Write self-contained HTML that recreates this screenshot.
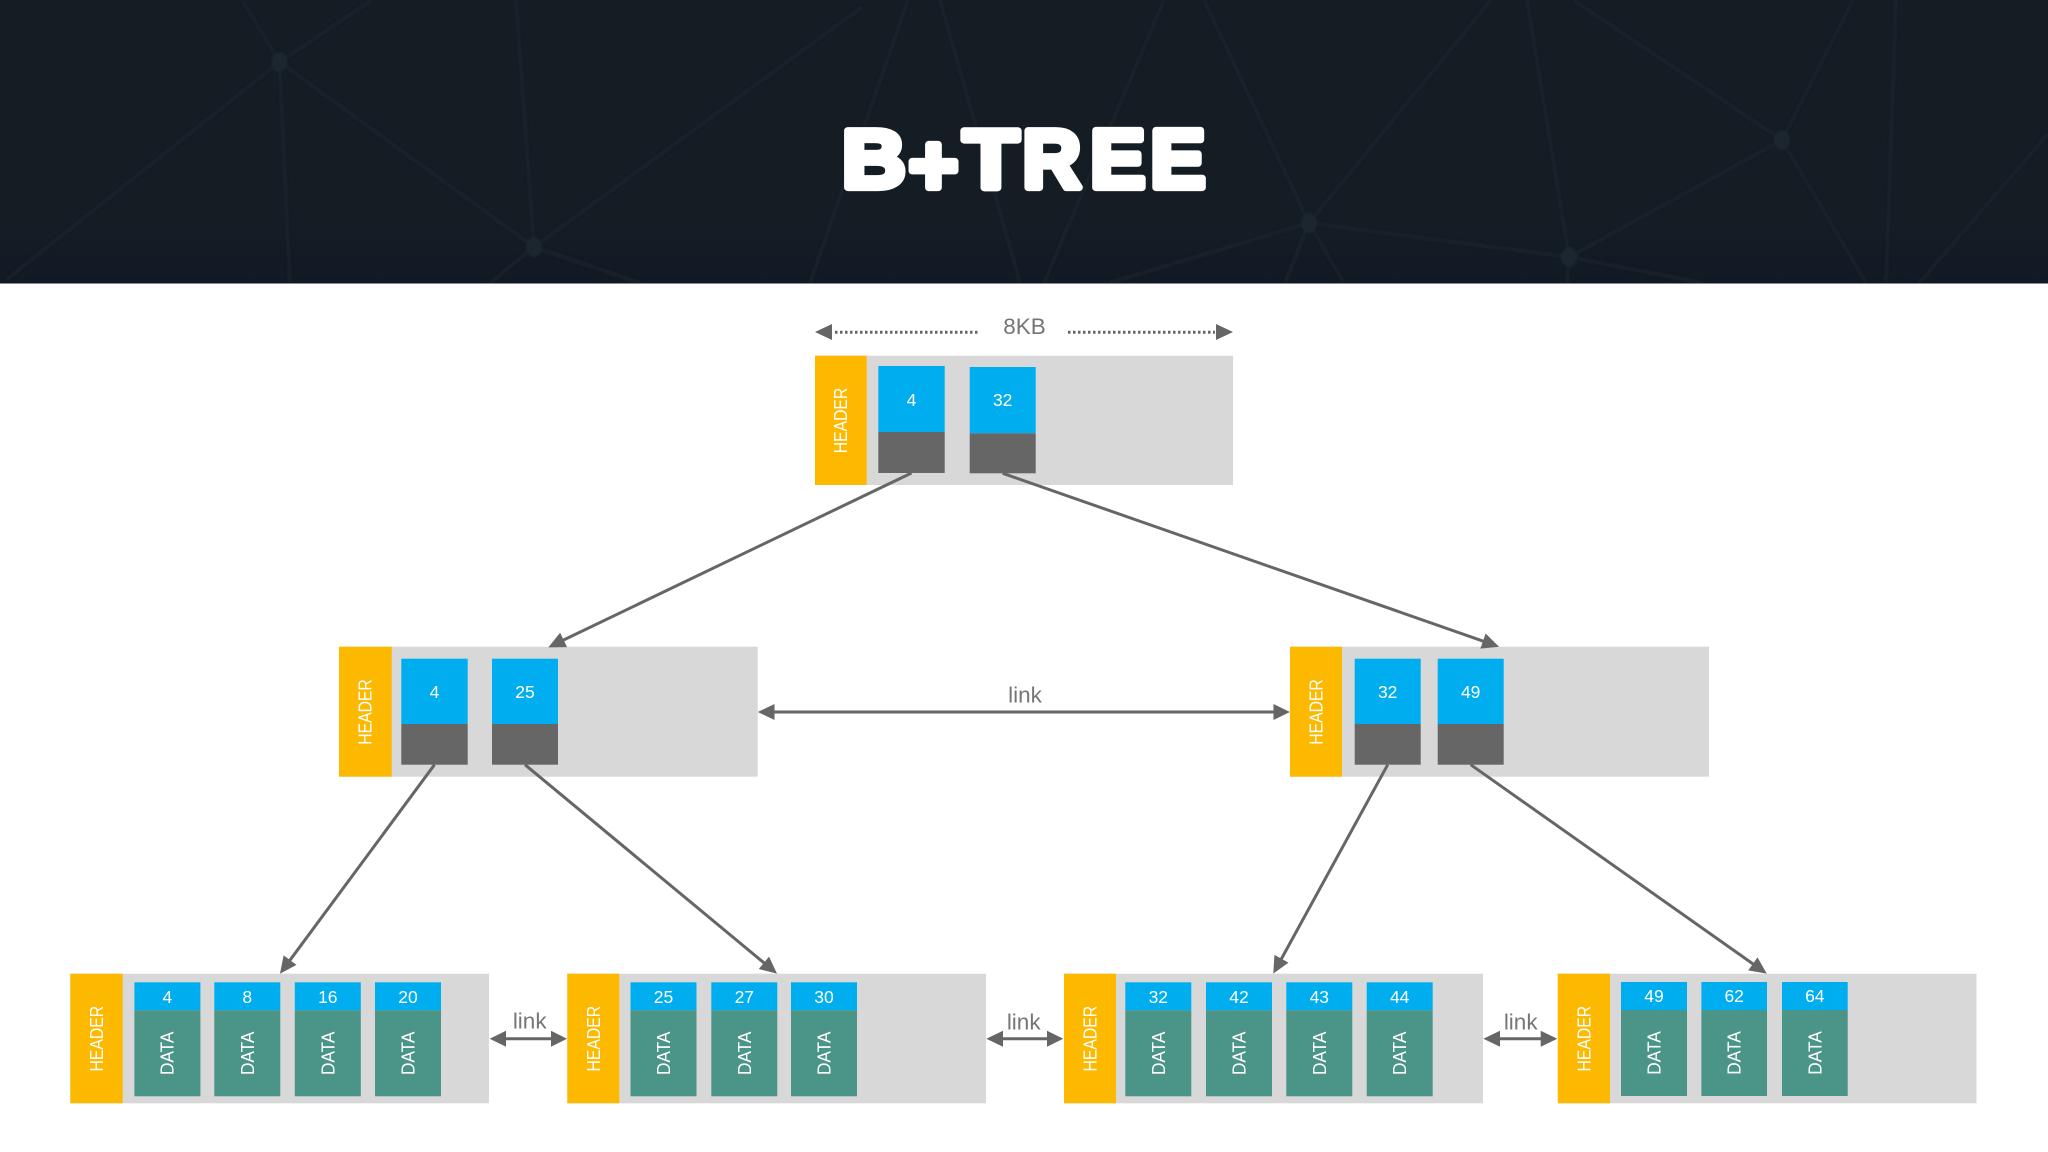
<!DOCTYPE html>
<html><head><meta charset="utf-8"><title>B+Tree</title>
<style>html,body{margin:0;padding:0;background:#fff;width:2048px;height:1152px;overflow:hidden}svg{display:block}
text{font-family:"Liberation Sans",sans-serif}
.w{fill:#fff;text-anchor:middle}
.n{font-size:17.5px}.h{font-size:18px}.g{fill:#757575;font-size:22.5px;text-anchor:middle}
.o{fill:#fdb900}.b{fill:#00aeef}.k{fill:#666}.t{fill:#4a9488}.r{fill:#d8d8d8}
.tt{font-size:81px;font-weight:700;fill:#fff;stroke:#fff;stroke-width:7;stroke-linejoin:round}
</style></head><body>
<svg width="2048" height="1152" viewBox="0 0 2048 1152" xmlns="http://www.w3.org/2000/svg">
<defs>
<linearGradient id="hg" x1="0" y1="0" x2="0" y2="1"><stop offset="0" stop-color="#141c24"/><stop offset=".8" stop-color="#141c24"/><stop offset="1" stop-color="#111925"/></linearGradient>
<filter id="bl" x="-5%" y="-5%" width="110%" height="110%"><feGaussianBlur stdDeviation="1.4"/></filter>
<marker id="ah" markerUnits="userSpaceOnUse" markerWidth="17" markerHeight="16" refX="7" refY="8" orient="auto" overflow="visible"><polygon points="0,0 17,8 0,16" fill="#666"/></marker>
</defs>
<rect x="0" y="0" width="2048" height="283.5" fill="url(#hg)"/>
<svg x="0" y="0" width="2048" height="283">
<g stroke="#1a232a" stroke-width="3" fill="none" filter="url(#bl)">
<path d="M279.5 62L242 0M279.5 62L372 0M279.5 62L6 280M279.5 62L290 283M279.5 62L534 247M534 247L516 0M534 247L862 7M534 247L490 283M534 247L640 283"/>
<path d="M908 0L810 283M940 0L1020 283M1164 0L1044 283M1204 0L1309 223M1309 223L1491 0M1309 223L1109 283M1309 223L1569 257M1309 223L1285 283M1309 223L1344 283"/>
<path d="M1527 0L1569 257M1569 257L1782 140M1569 257L1567 283M1569 257L1703 283M1573 0L1782 140M1782 140L1853 0M1782 140L1866 283M1896 0L1886 283M2048 134L1919 283"/>
</g>
<g fill="#1c272e" filter="url(#bl)">
<ellipse cx="279.5" cy="62" rx="8" ry="10"/><ellipse cx="534" cy="247" rx="8" ry="10"/><ellipse cx="1309" cy="223" rx="8" ry="10"/><ellipse cx="1569" cy="257" rx="8" ry="10"/><ellipse cx="1782" cy="140" rx="8" ry="10"/>
</g>
</svg>
<text class="tt" transform="translate(842,187.5) scale(1.09,1.023)">B</text>
<text class="tt" transform="translate(908.6,193.9) scale(1.05,1.04)">+</text>
<text class="tt" transform="translate(963.2,187.5) scale(1.12,1.023)">T</text>
<text class="tt" transform="translate(1022.5,187.5) scale(1,1.023)">R</text>
<text class="tt" transform="translate(1090.3,187.5) scale(1.02,1.023)">E</text>
<text class="tt" transform="translate(1150.4,187.5) scale(1.02,1.023)">E</text>

<!-- 8KB -->
<polygon points="815,332 832,324 832,340" fill="#666"/>
<polygon points="1233,332 1216,324 1216,340" fill="#666"/>
<line x1="835" y1="332.3" x2="980" y2="332.3" stroke="#666" stroke-width="3" stroke-dasharray="2.5 2.5"/>
<line x1="1068" y1="332.3" x2="1215" y2="332.3" stroke="#666" stroke-width="3" stroke-dasharray="2.5 2.5"/>
<text class="g" x="1024.5" y="334">8KB</text>

<!-- root -->
<rect class="r" x="815" y="355.7" width="418" height="129.3"/>
<rect class="o" x="815" y="355.7" width="51.7" height="129.3"/>
<text class="w h" transform="translate(847,420.5) rotate(-90)" textLength="65.6" lengthAdjust="spacingAndGlyphs">HEADER</text>
<rect class="b" x="878.3" y="366" width="66.4" height="66"/><rect class="k" x="878.3" y="432" width="66.4" height="41"/>
<text class="w n" x="911.5" y="406">4</text>
<rect class="b" x="969.7" y="367" width="66" height="66.3"/><rect class="k" x="969.7" y="433.3" width="66" height="40"/>
<text class="w n" x="1002.7" y="406">32</text>

<!-- mid left -->
<rect class="r" x="339" y="646.7" width="418.7" height="130"/>
<rect class="o" x="339" y="646.7" width="52.7" height="130"/>
<text class="w h" transform="translate(371.5,712) rotate(-90)" textLength="65.6" lengthAdjust="spacingAndGlyphs">HEADER</text>
<rect class="b" x="401.3" y="658.7" width="66.4" height="65.3"/><rect class="k" x="401.3" y="724" width="66.4" height="40.7"/>
<text class="w n" x="434.5" y="698">4</text>
<rect class="b" x="492" y="658.7" width="66" height="65.3"/><rect class="k" x="492" y="724" width="66" height="40.7"/>
<text class="w n" x="525" y="698">25</text>

<!-- mid right -->
<rect class="r" x="1290" y="646.7" width="419" height="130"/>
<rect class="o" x="1290" y="646.7" width="52" height="130"/>
<text class="w h" transform="translate(1322.5,712) rotate(-90)" textLength="65.6" lengthAdjust="spacingAndGlyphs">HEADER</text>
<rect class="b" x="1354.7" y="658.7" width="66" height="65.3"/><rect class="k" x="1354.7" y="724" width="66" height="40.7"/>
<text class="w n" x="1387.7" y="698">32</text>
<rect class="b" x="1437.7" y="658.7" width="66" height="65.3"/><rect class="k" x="1437.7" y="724" width="66" height="40.7"/>
<text class="w n" x="1470.7" y="698">49</text>

<!-- leaf 1 -->
<rect class="r" x="70.3" y="973.7" width="418.7" height="129.6"/>
<rect class="o" x="70.3" y="973.7" width="52.4" height="129.6"/>
<text class="w h" transform="translate(103,1038.7) rotate(-90)" textLength="65.6" lengthAdjust="spacingAndGlyphs">HEADER</text>
<rect class="b" x="134.4" y="982.3" width="66" height="28"/><rect class="t" x="134.4" y="1010.3" width="66" height="86"/>
<text class="w n" x="167.4" y="1003">4</text><text class="w h" transform="translate(173.5,1053.3) rotate(-90)" textLength="43.5" lengthAdjust="spacingAndGlyphs">DATA</text>
<rect class="b" x="214.3" y="982.3" width="66" height="28"/><rect class="t" x="214.3" y="1010.3" width="66" height="86"/>
<text class="w n" x="247.3" y="1003">8</text><text class="w h" transform="translate(253.8,1053.3) rotate(-90)" textLength="43.5" lengthAdjust="spacingAndGlyphs">DATA</text>
<rect class="b" x="294.8" y="982.3" width="66" height="28"/><rect class="t" x="294.8" y="1010.3" width="66" height="86"/>
<text class="w n" x="327.8" y="1003">16</text><text class="w h" transform="translate(334.3,1053.3) rotate(-90)" textLength="43.5" lengthAdjust="spacingAndGlyphs">DATA</text>
<rect class="b" x="375" y="982.3" width="66" height="28"/><rect class="t" x="375" y="1010.3" width="66" height="86"/>
<text class="w n" x="408" y="1003">20</text><text class="w h" transform="translate(414.5,1053.3) rotate(-90)" textLength="43.5" lengthAdjust="spacingAndGlyphs">DATA</text>

<!-- leaf 2 -->
<rect class="r" x="567.3" y="973.7" width="418.7" height="129.6"/>
<rect class="o" x="567.3" y="973.7" width="52" height="129.6"/>
<text class="w h" transform="translate(600,1038.7) rotate(-90)" textLength="65.6" lengthAdjust="spacingAndGlyphs">HEADER</text>
<rect class="b" x="630.5" y="982.3" width="66" height="28"/><rect class="t" x="630.5" y="1010.3" width="66" height="86"/>
<text class="w n" x="663.5" y="1003">25</text><text class="w h" transform="translate(670,1053.3) rotate(-90)" textLength="43.5" lengthAdjust="spacingAndGlyphs">DATA</text>
<rect class="b" x="711.3" y="982.3" width="66" height="28"/><rect class="t" x="711.3" y="1010.3" width="66" height="86"/>
<text class="w n" x="744.3" y="1003">27</text><text class="w h" transform="translate(750.8,1053.3) rotate(-90)" textLength="43.5" lengthAdjust="spacingAndGlyphs">DATA</text>
<rect class="b" x="791" y="982.3" width="66" height="28"/><rect class="t" x="791" y="1010.3" width="66" height="86"/>
<text class="w n" x="824" y="1003">30</text><text class="w h" transform="translate(830.5,1053.3) rotate(-90)" textLength="43.5" lengthAdjust="spacingAndGlyphs">DATA</text>

<!-- leaf 3 -->
<rect class="r" x="1064" y="973.7" width="419" height="129.6"/>
<rect class="o" x="1064" y="973.7" width="52" height="129.6"/>
<text class="w h" transform="translate(1096.5,1038.7) rotate(-90)" textLength="65.6" lengthAdjust="spacingAndGlyphs">HEADER</text>
<rect class="b" x="1125.3" y="982.3" width="66" height="28"/><rect class="t" x="1125.3" y="1010.3" width="66" height="86"/>
<text class="w n" x="1158.3" y="1003">32</text><text class="w h" transform="translate(1164.8,1053.3) rotate(-90)" textLength="43.5" lengthAdjust="spacingAndGlyphs">DATA</text>
<rect class="b" x="1206" y="982.3" width="66" height="28"/><rect class="t" x="1206" y="1010.3" width="66" height="86"/>
<text class="w n" x="1239" y="1003">42</text><text class="w h" transform="translate(1245.5,1053.3) rotate(-90)" textLength="43.5" lengthAdjust="spacingAndGlyphs">DATA</text>
<rect class="b" x="1286.3" y="982.3" width="66" height="28"/><rect class="t" x="1286.3" y="1010.3" width="66" height="86"/>
<text class="w n" x="1319.3" y="1003">43</text><text class="w h" transform="translate(1325.8,1053.3) rotate(-90)" textLength="43.5" lengthAdjust="spacingAndGlyphs">DATA</text>
<rect class="b" x="1366.7" y="982.3" width="66" height="28"/><rect class="t" x="1366.7" y="1010.3" width="66" height="86"/>
<text class="w n" x="1399.7" y="1003">44</text><text class="w h" transform="translate(1406.2,1053.3) rotate(-90)" textLength="43.5" lengthAdjust="spacingAndGlyphs">DATA</text>

<!-- leaf 4 -->
<rect class="r" x="1557.8" y="973.7" width="418.7" height="129.6"/>
<rect class="o" x="1557.8" y="973.7" width="52.2" height="129.6"/>
<text class="w h" transform="translate(1590.5,1038.7) rotate(-90)" textLength="65.6" lengthAdjust="spacingAndGlyphs">HEADER</text>
<rect class="b" x="1621" y="982" width="66" height="28"/><rect class="t" x="1621" y="1010" width="66" height="86"/>
<text class="w n" x="1654" y="1002">49</text><text class="w h" transform="translate(1660.5,1053) rotate(-90)" textLength="43.5" lengthAdjust="spacingAndGlyphs">DATA</text>
<rect class="b" x="1701.4" y="982" width="65.6" height="28"/><rect class="t" x="1701.4" y="1010" width="65.6" height="86"/>
<text class="w n" x="1734.2" y="1002">62</text><text class="w h" transform="translate(1740.7,1053) rotate(-90)" textLength="43.5" lengthAdjust="spacingAndGlyphs">DATA</text>
<rect class="b" x="1782" y="982" width="65.7" height="28"/><rect class="t" x="1782" y="1010" width="65.7" height="86"/>
<text class="w n" x="1814.8" y="1002">64</text><text class="w h" transform="translate(1821.3,1053) rotate(-90)" textLength="43.5" lengthAdjust="spacingAndGlyphs">DATA</text>

<!-- tree connectors -->
<g stroke="#666" stroke-width="3" fill="none">
<line x1="911.5" y1="473" x2="557.3" y2="643" marker-end="url(#ah)"/>
<line x1="1002.7" y1="473.3" x2="1489.6" y2="643.4" marker-end="url(#ah)"/>
<line x1="434.5" y1="764.7" x2="285.9" y2="965.7" marker-end="url(#ah)"/>
<line x1="525" y1="764.7" x2="769.3" y2="967.3" marker-end="url(#ah)"/>
<line x1="1387.7" y1="764.7" x2="1278.1" y2="964.9" marker-end="url(#ah)"/>
<line x1="1470.7" y1="764.7" x2="1758.6" y2="967.9" marker-end="url(#ah)"/>
</g>

<!-- links -->
<line x1="770" y1="712" x2="1278" y2="712" stroke="#666" stroke-width="3"/>
<polygon points="757.8,712 774.5,704 774.5,720" fill="#666"/><polygon points="1290,712 1273.5,704 1273.5,720" fill="#666"/>
<text class="g" x="1025" y="702.7">link</text>

<line x1="500" y1="1038.7" x2="556" y2="1038.7" stroke="#666" stroke-width="3"/>
<polygon points="489.7,1038.7 506,1030.7 506,1046.7" fill="#666"/><polygon points="567,1038.7 551,1030.7 551,1046.7" fill="#666"/>
<text class="g" x="529.7" y="1028.5">link</text>

<line x1="998" y1="1038.7" x2="1052" y2="1038.7" stroke="#666" stroke-width="3"/>
<polygon points="986.3,1038.7 1003,1030.7 1003,1046.7" fill="#666"/><polygon points="1063.3,1038.7 1047,1030.7 1047,1046.7" fill="#666"/>
<text class="g" x="1023.7" y="1029.3">link</text>

<line x1="1495" y1="1038.7" x2="1546" y2="1038.7" stroke="#666" stroke-width="3"/>
<polygon points="1483.3,1038.7 1500,1030.7 1500,1046.7" fill="#666"/><polygon points="1557.3,1038.7 1540.7,1030.7 1540.7,1046.7" fill="#666"/>
<text class="g" x="1520.7" y="1029.3">link</text>
</svg>
</body></html>
